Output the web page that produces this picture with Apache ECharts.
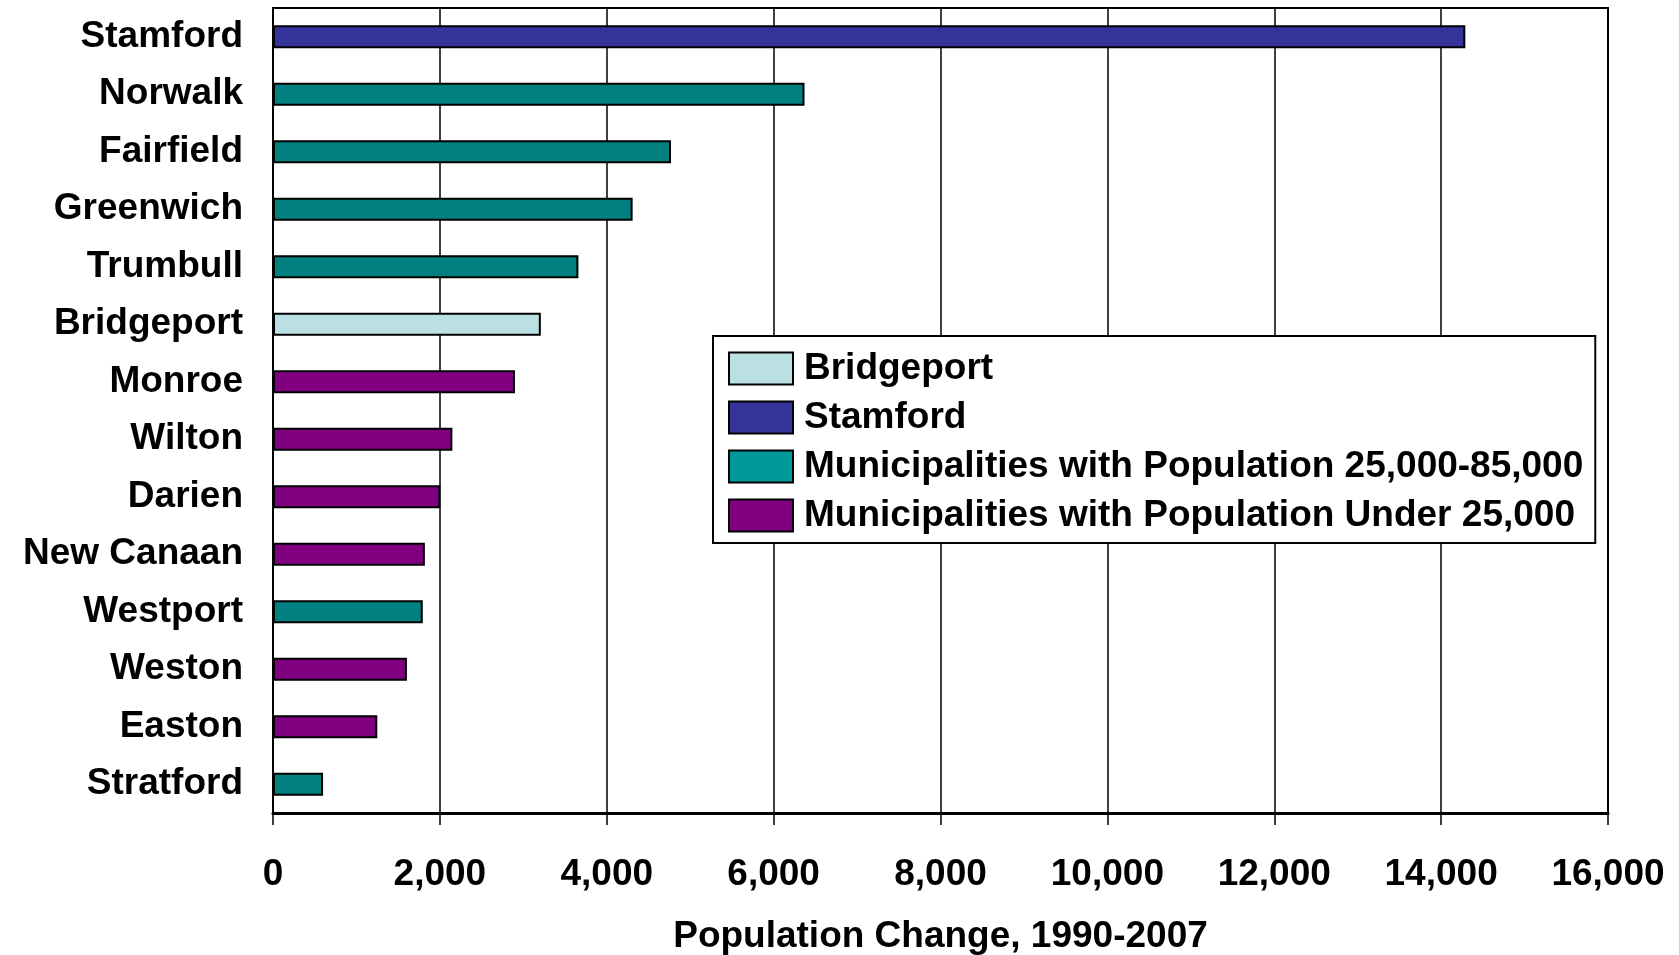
<!DOCTYPE html>
<html>
<head>
<meta charset="utf-8">
<script src="https://cdn.jsdelivr.net/npm/echarts@6/dist/echarts.min.js"></script>
<style>
html,body{margin:0;padding:0;background:#fff;}
#chart{width:1679px;height:955px;}
</style>
</head>
<body>
<div id="chart"></div>
<script>
// Data
var categories = ['Stamford','Norwalk','Fairfield','Greenwich','Trumbull','Bridgeport','Monroe','Wilton','Darien','New Canaan','Westport','Weston','Easton','Stratford'];
var values = [14290, 6370, 4770, 4310, 3660, 3210, 2900, 2150, 2005, 1820, 1795, 1605, 1250, 600];
var groups = ['Stamford','Mid','Mid','Mid','Mid','Bridgeport','Small','Small','Small','Small','Mid','Small','Small','Mid'];
var groupKeys = ['Bridgeport','Stamford','Mid','Small'];
var groupNames = ['Bridgeport','Stamford','Municipalities with Population 25,000-85,000','Municipalities with Population Under 25,000'];
var xTicks = [0, 2000, 4000, 6000, 8000, 10000, 12000, 14000, 16000];
var axisTitle = 'Population Change, 1990-2007';

var barColors = {Bridgeport:'#BBE0E3', Stamford:'#333399', Mid:'#008080', Small:'#800080'};
var legendColors = {Bridgeport:'#BBE0E3', Stamford:'#333399', Mid:'#009999', Small:'#800080'};

var FONT = "'Liberation Sans', Arial, sans-serif";
var FS = 37;

var series = groupKeys.map(function(k, gi){
  return {
    name: groupNames[gi],
    type: 'bar',
    stack: 'all',
    barWidth: '40%',
    itemStyle: {color: barColors[k], borderColor: '#000', borderWidth: 2},
    data: values.map(function(v, i){ return groups[i] === k ? v : '-'; })
  };
});

var chart = echarts.init(document.getElementById('chart'));
chart.setOption({
  animation: false,
  backgroundColor: '#fff',
  grid: {left: 273, right: 71, top: 8, bottom: 142, outerBoundsMode: 'none', containLabel: false, show: true, borderColor: '#000', borderWidth: 2, backgroundColor: 'transparent'},
  legend: {
    orient: 'vertical',
    left: 713, top: 336,
    backgroundColor: '#fff',
    borderColor: '#000', borderWidth: 2,
    padding: [14, 12, 9, 15],
    itemWidth: 64, itemHeight: 32, itemGap: 12,
    icon: 'rect',
    selectedMode: false,
    textStyle: {fontFamily: FONT, fontWeight: 'bold', fontSize: FS, lineHeight: 34, color: '#000', padding: [0,0,0,6]},
    data: groupKeys.map(function(k, gi){
      return {name: groupNames[gi], itemStyle: {color: legendColors[k], borderColor: '#000', borderWidth: 2}};
    })
  },
  xAxis: {
    type: 'value',
    min: xTicks[0], max: xTicks[xTicks.length-1], interval: xTicks[1]-xTicks[0],
    name: axisTitle,
    nameLocation: 'middle',
    nameGap: 105,
    nameTextStyle: {fontFamily: FONT, fontWeight: 'bold', fontSize: FS, color: '#000'},
    axisLine: {show: true, lineStyle: {color: '#000', width: 3}},
    axisTick: {show: true, length: 12, lineStyle: {color: '#000', width: 1.5}},
    axisLabel: {
      margin: 43,
      fontFamily: FONT, fontWeight: 'bold', fontSize: FS, color: '#000',
      formatter: function(v){ return v.toLocaleString('en-US'); }
    },
    splitLine: {show: true, lineStyle: {color: '#000', width: 1.5}}
  },
  yAxis: {
    type: 'category',
    data: categories,
    inverse: true,
    axisLine: {show: true, lineStyle: {color: '#000', width: 2}},
    axisTick: {show: false},
    axisLabel: {margin: 30, padding: [5,0,0,0], fontFamily: FONT, fontWeight: 'bold', fontSize: FS, color: '#000'},
    splitLine: {show: false}
  },
  series: series
});
</script>
</body>
</html>
